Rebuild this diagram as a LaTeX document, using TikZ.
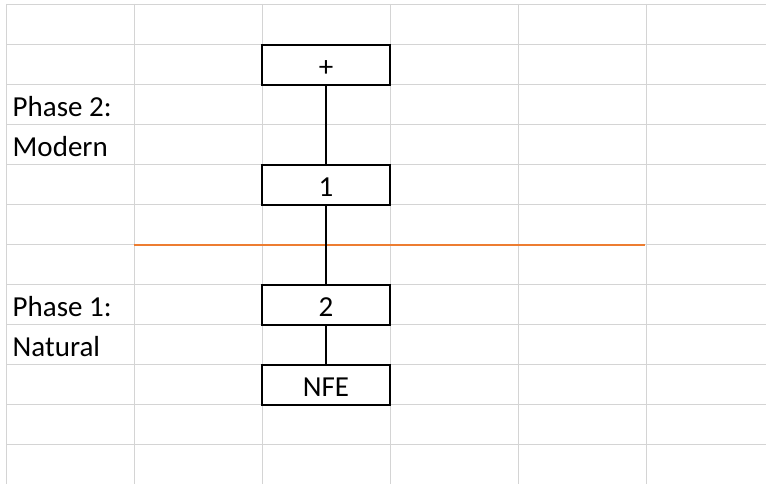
\documentclass[tikz,border=0pt]{standalone}
\usepackage{fontspec}
\setmainfont{Carlito}
\definecolor{gridgray}{RGB}{212,212,212}
\definecolor{xlorange}{RGB}{237,125,49}
\begin{document}
\begin{tikzpicture}[x=1pt,y=-1pt,
  gridline/.style={draw=gridgray,line width=1.4pt},
  cellbox/.style={draw=black,line width=2pt,fill=white,minimum width=128pt,minimum height=40pt,inner sep=0pt,
     text height=23pt,text depth=0pt,font=\fontsize{29}{32}\selectfont},
  celltext/.style={anchor=base west,inner sep=0pt,font=\fontsize{29}{32}\selectfont},
  conn/.style={draw=black,line width=1.4pt},
  divider/.style={draw=xlorange,line width=1.8pt}]
\useasboundingbox (0,0) rectangle (766,484);
\fill[white] (0,0) rectangle (766,484);
% grid
\foreach \k in {0,...,11}{
  \draw[gridline] (6,4.7+40*\k) -- (766,4.7+40*\k);
}
\foreach \k in {0,...,5}{
  \draw[gridline] (6.5+128*\k,4) -- (6.5+128*\k,484);
}
% divider
\coordinate (oL) at (134,245.2);
\coordinate (oR) at (645,245.2);
\draw[divider] (oL) -- (oR);
% boxes
\node[cellbox] (plus) at (326,64.7) {+};
\node[cellbox] (one) at (326,184.7) {1};
\node[cellbox] (two) at (326,304.7) {2};
\node[cellbox] (nfe) at (326,384.7) {NFE};
\draw[conn] (plus.south) -- (one.north);
\draw[conn] (one.south) -- (two.north);
\draw[conn] (two.south) -- (nfe.north);
% labels
\node[celltext] (p2) at (12.5,116.2) {Phase 2:};
\node[celltext] (mod) at (12.5,156.2) {Modern};
\node[celltext] (p1) at (12.5,316.2) {Phase 1:};
\node[celltext] (nat) at (12.5,356.2) {Natural};
\end{tikzpicture}
\end{document}
